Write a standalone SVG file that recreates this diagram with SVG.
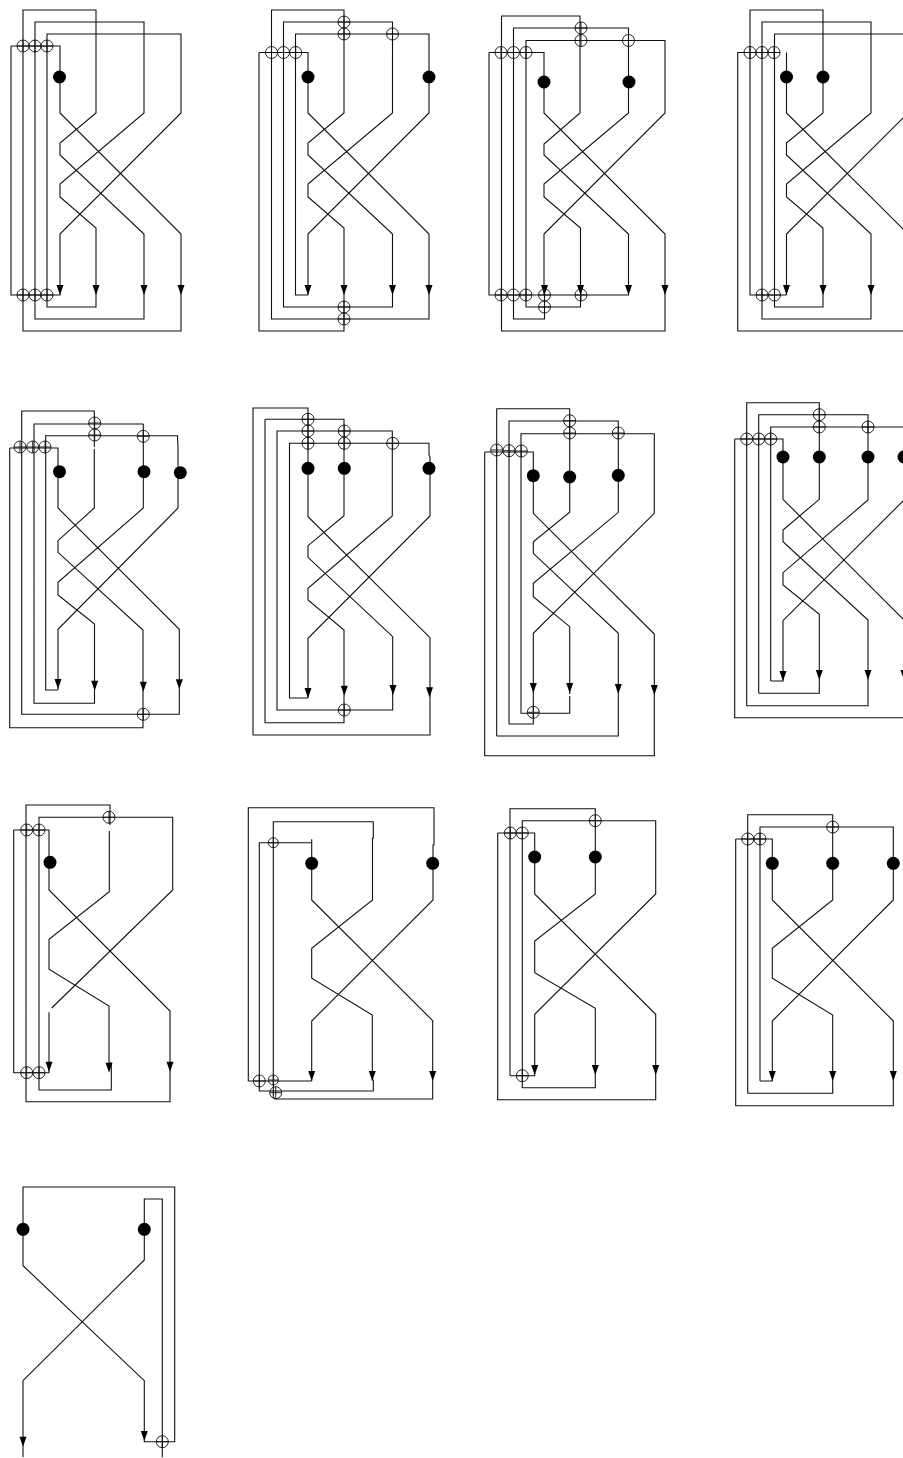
<svg xmlns="http://www.w3.org/2000/svg" width="903" height="1458" viewBox="0 0 903 1458">
<style>
.w{fill:none;stroke:#111;stroke-width:1.1;stroke-linejoin:miter}
.o{fill:none;stroke:#111;stroke-width:.9}
</style>
<defs>
<g id="x"><circle class="o" r="6"/><path class="o" d="M-6 0H6M0-6V6"/></g>
<g id="xs"><circle class="o" r="5"/><path class="o" d="M-5 0H5M0-5V5"/></g>
<circle id="d" r="6.5" fill="#000"/>
<path id="a" d="M-3.5-10H3.5L0 0Z" fill="#000"/>
</defs>
<rect width="903" height="1458" fill="#fff"/>

<g id="d1">
<g id="d1-connectors">
<path class="w" d="M11 46H60V113L181 234V331H23V10H96V113L60 143V155L144 234V319H35V22H144V113L60 184V197L96 228V307H47V34H181V113L60 234V295H11V46"/>
<use href="#a" x="60" y="295"/><use href="#a" x="96" y="295"/><use href="#a" x="144" y="295"/><use href="#a" x="181" y="295"/>
</g>
<g id="d1-x1"><use href="#x" x="23" y="46"/></g><g id="d1-x2"><use href="#x" x="35" y="46"/></g><g id="d1-x3"><use href="#x" x="47" y="46"/></g>
<g id="d1-x4"><use href="#x" x="23" y="295"/></g><g id="d1-x5"><use href="#x" x="35" y="295"/></g><g id="d1-x6"><use href="#x" x="47" y="295"/></g>
<g id="d1-n1"><use href="#d" x="59.5" y="77"/></g>
</g>

<g id="d2">
<g id="d2-connectors">
<path class="w" d="M259 52.500H308V113L429 234V319H271.500V10H344V113L308 143V155L392.500 234V307H283.500V22H392.500V113L308 184V197L344 228V331H259V52.500"/>
<path class="w" d="M308 295H295.500V34H429V113L308 234V295"/>
<use href="#a" x="308" y="295"/><use href="#a" x="344" y="295"/><use href="#a" x="392.500" y="295"/><use href="#a" x="429" y="295"/>
</g>
<g id="d2-x1"><use href="#x" x="271.500" y="52.500"/></g><g id="d2-x2"><use href="#x" x="283.500" y="52.500"/></g><g id="d2-x3"><use href="#x" x="295.700" y="52.500"/></g>
<g id="d2-x4"><use href="#x" x="344" y="22"/></g><g id="d2-x5"><use href="#x" x="344" y="34"/></g><g id="d2-x6"><use href="#x" x="392.500" y="34"/></g>
<g id="d2-x7"><use href="#x" x="344" y="307"/></g><g id="d2-x8"><use href="#x" x="344" y="319"/></g>
<g id="d2-n1"><use href="#d" x="308" y="77"/></g><g id="d2-n2"><use href="#d" x="429" y="77"/></g>
</g>

<g id="d3">
<g id="d3-connectors">
<path class="w" d="M489 52.500H544V113L665 234V331H501.500V16H580V113L544 144V155L628.500 234V295H489V52.500"/>
<path class="w" d="M513.500 295V28H628.500V113L544 184V197L580.500 228V307H526V40.500H665V113L544 234V295"/>
<path class="w" d="M513.500 295V319H544.500V295"/>
<use href="#a" x="544.500" y="295"/><use href="#a" x="580.500" y="295"/><use href="#a" x="628.500" y="295"/><use href="#a" x="665" y="295"/>
</g>
<g id="d3-x1"><use href="#x" x="501" y="52.500"/></g><g id="d3-x2"><use href="#x" x="513.500" y="52.500"/></g><g id="d3-x3"><use href="#x" x="526" y="52.500"/></g>
<g id="d3-x4"><use href="#x" x="581" y="28"/></g><g id="d3-x5"><use href="#x" x="581" y="40.500"/></g><g id="d3-x6"><use href="#x" x="628.500" y="40.500"/></g>
<g id="d3-x7"><use href="#x" x="501" y="295"/></g><g id="d3-x8"><use href="#x" x="513.500" y="295"/></g><g id="d3-x9"><use href="#x" x="526" y="295"/></g>
<g id="d3-x10"><use href="#x" x="544.500" y="295"/></g><g id="d3-x11"><use href="#x" x="581" y="295"/></g><g id="d3-x12"><use href="#x" x="544.500" y="307"/></g>
<g id="d3-n1"><use href="#d" x="544" y="82"/></g><g id="d3-n2"><use href="#d" x="629" y="82"/></g>
</g>

<g id="d4">
<g id="d4-connectors">
<path class="w" d="M780 52.500H737.700V331H908V234L786.500 113V52.500"/>
<path class="w" d="M786.500 295H750V10H823V113L786.500 143V155L871 234V319H762V22H871V113L786.500 184V197L823 228V307H774.500V34H908V113L786.500 234V295"/>
<use href="#a" x="786.500" y="295"/><use href="#a" x="823" y="295"/><use href="#a" x="871" y="295"/>
</g>
<g id="d4-x1"><use href="#x" x="750" y="52.500"/></g><g id="d4-x2"><use href="#x" x="762" y="52.500"/></g><g id="d4-x3"><use href="#x" x="774" y="52.500"/></g>
<g id="d4-x4"><use href="#x" x="762" y="295"/></g><g id="d4-x5"><use href="#x" x="774.500" y="295"/></g>
<g id="d4-n1"><use href="#d" x="786.500" y="77"/></g><g id="d4-n2"><use href="#d" x="823" y="77"/></g>
</g>

<g id="d5">
<g id="d5-connectors">
<path class="w" d="M9.700 448H58V508L179.300 629.300V714.300H21.700V411H94.300V447M94.300 449V508L58 540.700V552.300L143 630V727.700H9.700V448"/>
<path class="w" d="M143.300 424V508L58 582.300V595L94.500 624V703.300H34V424H143.300"/>
<path class="w" d="M178 508V447L177.500 435.700H45.700V690H58M178 508L58 629.300V690"/>
<use href="#a" x="58" y="689"/><use href="#a" x="94.700" y="690.700"/><use href="#a" x="143.300" y="691.700"/><use href="#a" x="179.300" y="689.300"/>
</g>
<g id="d5-x1"><use href="#x" x="20" y="447"/></g><g id="d5-x2"><use href="#x" x="32.700" y="447"/></g><g id="d5-x3"><use href="#x" x="45" y="447"/></g>
<g id="d5-x4"><use href="#x" x="94.700" y="423"/></g><g id="d5-x5"><use href="#x" x="94.700" y="435"/></g><g id="d5-x6"><use href="#x" x="143.300" y="436.300"/></g><g id="d5-x7"><use href="#x" x="143.300" y="714.300"/></g>
<g id="d5-n1"><use href="#d" x="59.500" y="471.700"/></g><g id="d5-n2"><use href="#d" x="144" y="471.700"/></g><g id="d5-n3"><use href="#d" x="180.300" y="472.700"/></g>
</g>

<g id="d6">
<g id="d6-connectors">
<path class="w" d="M308 468V516.700L430 637.700V735H253V408H308V468"/>
<path class="w" d="M265 419.300H344V515.700L308 545.700V557.300L392.700 636.700V710H277V431H392.300V516L308 588.300V600L344 630V722.700H265V419.300"/>
<path class="w" d="M308 698H289.500V443.300H429V455L430 457V516L308 638.300V698"/>
<use href="#a" x="308" y="698"/><use href="#a" x="344.300" y="695.700"/><use href="#a" x="393" y="695"/><use href="#a" x="429.500" y="697.300"/>
</g>
<g id="d6-x1"><use href="#x" x="308" y="419.300"/></g><g id="d6-x2"><use href="#x" x="308" y="431"/></g><g id="d6-x3"><use href="#x" x="308" y="443.300"/></g>
<g id="d6-x4"><use href="#x" x="344.300" y="431"/></g><g id="d6-x5"><use href="#x" x="344.300" y="443.300"/></g><g id="d6-x6"><use href="#x" x="392.700" y="443.300"/></g><g id="d6-x7"><use href="#x" x="344.300" y="710"/></g>
<g id="d6-n1"><use href="#d" x="308" y="468.300"/></g><g id="d6-n2"><use href="#d" x="344.300" y="468.300"/></g><g id="d6-n3"><use href="#d" x="429" y="468.300"/></g>
</g>

<g id="d7">
<g id="d7-connectors">
<path class="w" d="M484.700 452H533.300V513.300L654.300 634V755.700H484.700V452"/>
<path class="w" d="M496.700 736V408.700H569.700V512.300L533.300 541.700V553.300L618.300 633.300V736H496.700"/>
<path class="w" d="M509 724V421H618.300V512.300L533.300 583.300V596.700L569.700 626.700V694M569.700 696V713.300H521V433.700H654.300V513.300L533.300 633.300V724H509"/>
<use href="#a" x="533.300" y="693"/><use href="#a" x="569.700" y="693"/><use href="#a" x="618.300" y="694"/><use href="#a" x="654.300" y="695"/>
</g>
<g id="d7-x1"><use href="#x" x="496.700" y="450"/></g><g id="d7-x2"><use href="#x" x="509" y="450.700"/></g><g id="d7-x3"><use href="#x" x="521.300" y="451"/></g>
<g id="d7-x4"><use href="#x" x="569.700" y="420.700"/></g><g id="d7-x5"><use href="#x" x="569.700" y="433"/></g><g id="d7-x6"><use href="#x" x="618.300" y="433"/></g><g id="d7-x7"><use href="#x" x="533.300" y="712.300"/></g>
<g id="d7-n1"><use href="#d" x="533.300" y="475.700"/></g><g id="d7-n2"><use href="#d" x="569.700" y="477"/></g><g id="d7-n3"><use href="#d" x="618.300" y="475.300"/></g>
</g>

<g id="d8">
<g id="d8-connectors">
<path class="w" d="M734.700 439H783V499.300L904 620V717.700H734.700V439"/>
<path class="w" d="M746.700 705.700V402.700H819.300V499.300L783 530V541.700L868 620V705.700H746.700"/>
<path class="w" d="M758.700 693.300V414.700H868V500L783 572.700V585L819.300 614.300V693.300H758.700"/>
<path class="w" d="M770.700 681V427H904V500L783 620.700V681H770.700"/>
<use href="#a" x="783" y="681"/><use href="#a" x="819.300" y="680"/><use href="#a" x="868" y="680"/><use href="#a" x="904" y="680"/>
</g>
<g id="d8-x1"><use href="#x" x="746.700" y="439"/></g><g id="d8-x2"><use href="#x" x="758.700" y="439"/></g><g id="d8-x3"><use href="#x" x="770.700" y="439"/></g>
<g id="d8-x4"><use href="#x" x="819.300" y="414.700"/></g><g id="d8-x5"><use href="#x" x="819.300" y="427"/></g><g id="d8-x6"><use href="#x" x="868" y="427"/></g>
<g id="d8-n1"><use href="#d" x="783" y="457"/></g><g id="d8-n2"><use href="#d" x="819.300" y="457"/></g><g id="d8-n3"><use href="#d" x="868" y="457"/></g><g id="d8-n4"><use href="#d" x="904" y="457"/></g>
</g>

<g id="d9">
<g id="d9-connectors">
<path class="w" d="M13.700 830H49V890L170 1011V1101.700H26V805H110V825"/>
<path class="w" d="M109.300 831V891.700L49 939.300V969.300L109 1006V1063H111.300V1090H39V817.300H172.700V890L51.700 1008"/>
<path class="w" d="M49 1012.300V1072.700H13.700V830"/>
<use href="#a" x="49" y="1071.700"/><use href="#a" x="109" y="1072.700"/><use href="#a" x="170" y="1071.700"/>
</g>
<g id="d9-x1"><use href="#x" x="26.700" y="830"/></g><g id="d9-x2"><use href="#x" x="39" y="830"/></g><g id="d9-x3"><use href="#x" x="109" y="817.300"/></g>
<g id="d9-x4"><use href="#x" x="26.700" y="1072.700"/></g><g id="d9-x5"><use href="#x" x="39" y="1072.700"/></g>
<g id="d9-n1"><use href="#d" x="50" y="862.300"/></g>
</g>

<g id="d10">
<g id="d10-connectors">
<path class="w" d="M311.700 839.300V900L432.700 1020.700V1099H275L273.300 1097V821.700H373.300V838H372.500V900L311.700 948.300V978.300L372.300 1015V1080H373.300V1091H259.300V842.700H311.700"/>
<path class="w" d="M311.700 1081V1021L433 900V845H434V807.700H248.300V1081H311.700"/>
<use href="#a" x="311.700" y="1081"/><use href="#a" x="372.300" y="1081"/><use href="#a" x="432.700" y="1081"/>
</g>
<g id="d10-x1"><use href="#xs" x="273.300" y="842.700"/></g><g id="d10-x2"><use href="#x" x="259.300" y="1081"/></g><g id="d10-x3"><use href="#xs" x="273.300" y="1080"/></g><g id="d10-x4"><use href="#x" x="275.700" y="1092.700"/></g>
<g id="d10-n1"><use href="#d" x="311.700" y="863.300"/></g><g id="d10-n2"><use href="#d" x="432.700" y="863.300"/></g>
</g>

<g id="d11">
<g id="d11-connectors">
<path class="w" d="M497.700 833H534.700V894L655.700 1014.300V1099.700H497.700V833"/>
<path class="w" d="M510 1075.700V808.700H595.300V894L534.700 941V972.700L595.300 1008.300V1087.700H522.300V820.700H655.700V894L534.700 1014.300V1075.700H510"/>
<use href="#a" x="534.700" y="1075"/><use href="#a" x="595.300" y="1075"/><use href="#a" x="655.700" y="1075"/>
</g>
<g id="d11-x1"><use href="#x" x="510.300" y="833"/></g><g id="d11-x2"><use href="#x" x="522.300" y="833"/></g><g id="d11-x3"><use href="#x" x="595.300" y="820.700"/></g><g id="d11-x4"><use href="#x" x="522.300" y="1075.700"/></g>
<g id="d11-n1"><use href="#d" x="534.700" y="857"/></g><g id="d11-n2"><use href="#d" x="595.300" y="857"/></g>
</g>

<g id="d12">
<g id="d12-connectors">
<path class="w" d="M735.700 839H772.300V900L893.300 1021V1105.700H735.700V839"/>
<path class="w" d="M747.700 1093.300V814.700H832.700V900L772.300 948.300V978.300L832.700 1015V1093.300H747.700"/>
<path class="w" d="M760 1081V827H893.300V900L772.300 1021V1081H760"/>
<use href="#a" x="772.300" y="1081"/><use href="#a" x="832.700" y="1081"/><use href="#a" x="893.300" y="1081"/>
</g>
<g id="d12-x1"><use href="#x" x="747.700" y="839"/></g><g id="d12-x2"><use href="#x" x="760" y="839"/></g><g id="d12-x3"><use href="#x" x="832.700" y="827"/></g>
<g id="d12-n1"><use href="#d" x="772.300" y="863.300"/></g><g id="d12-n2"><use href="#d" x="832.700" y="863.300"/></g><g id="d12-n3"><use href="#d" x="893.300" y="863.300"/></g>
</g>

<g id="d13">
<g id="d13-connectors">
<path class="w" d="M23 1229V1187H174.700V1441.700H144.300V1380.700L23 1265.700V1229"/>
<path class="w" d="M144.300 1229V1199H162.300V1457.300"/>
<path class="w" d="M144.300 1229V1260L23 1380.700V1457"/>
<use href="#a" x="23" y="1446.700"/><use href="#a" x="144.300" y="1441"/>
</g>
<g id="d13-x1"><use href="#x" x="162.300" y="1441.700"/></g>
<g id="d13-n1"><use href="#d" x="23" y="1229.300"/></g><g id="d13-n2"><use href="#d" x="144.300" y="1229.300"/></g>
</g>
</svg>
